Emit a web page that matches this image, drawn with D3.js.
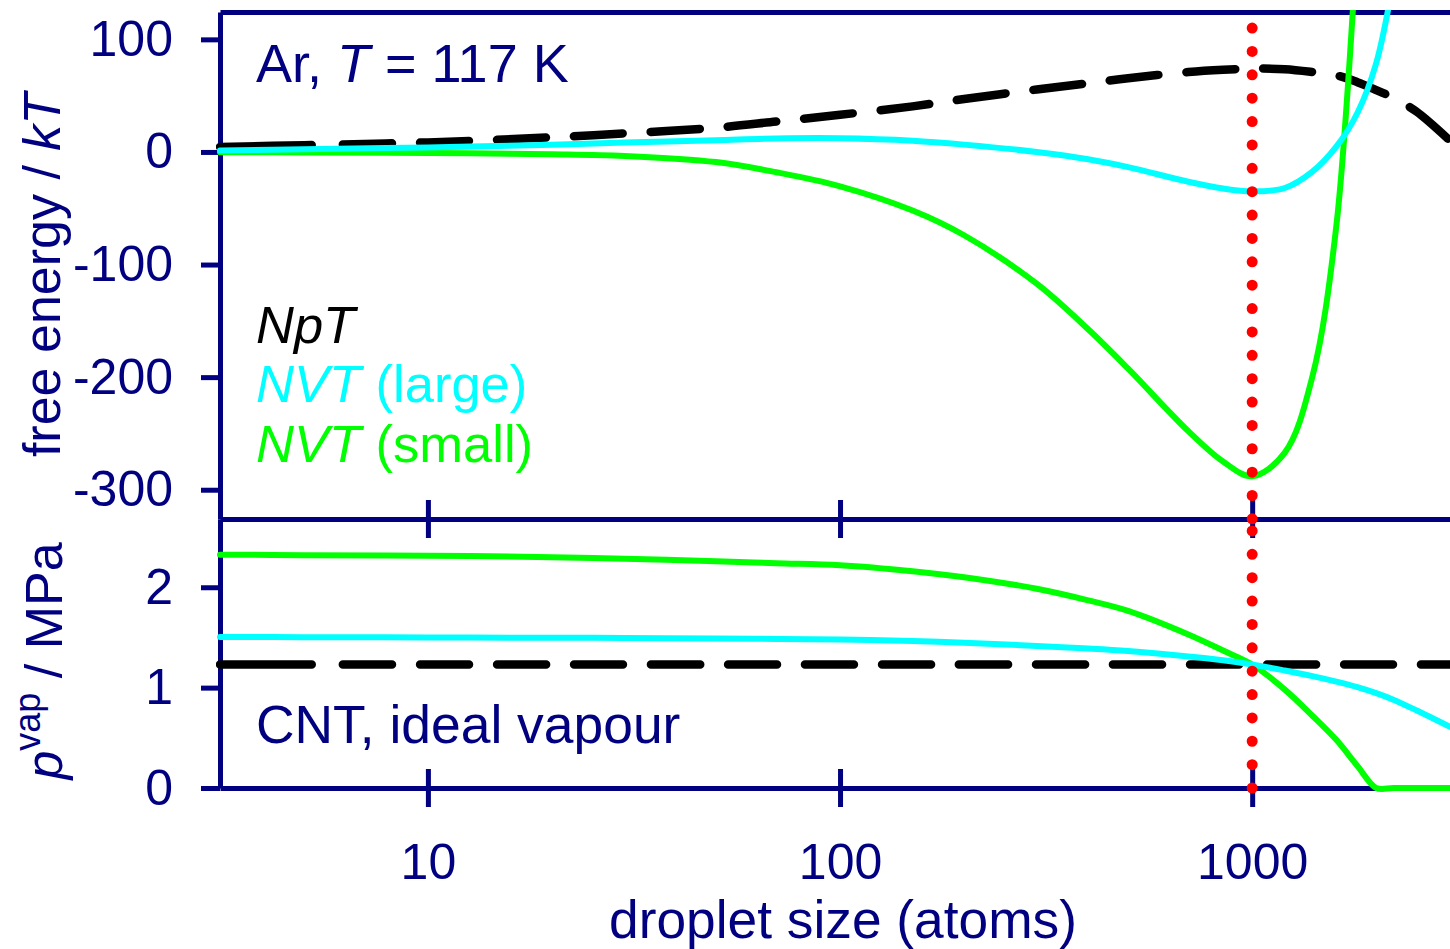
<!DOCTYPE html>
<html>
<head>
<meta charset="utf-8">
<script src="https://cdn.jsdelivr.net/npm/d3@7"></script>
<style>
  body { margin: 0; background: #fff; }
  svg text { font-family: "Liberation Sans", Arial, sans-serif; }
</style>
</head>
<body>
<script>
const sizes = [3.13, 5, 10, 20, 30, 50, 70, 100, 150, 200, 300, 400, 500, 700, 850,
               1000, 1200, 1400, 1600, 1800, 2000, 2200, 2500, 3020];

// free energy / kT
const energyNpT = [4.5, 6, 8.5, 13, 16.5, 21.5, 27, 33, 40.5, 47, 55.5, 61, 65.5, 71, 73,
                   74, 73.5, 71, 68, 62, 55, 48, 36, 10];
const energyLarge = [1.2, 2.5, 4, 6.5, 8.3, 10.5, 12, 12.2, 10, 6.5, 0, -6.5, -13.5, -26.5, -32.5,
                     -35, -32, -17.5, 4.7, 34.6, 79, 152, null, null];
const energySmall = [-0.3, -0.4, -1, -2, -3.5, -9, -18, -30.5, -52, -74, -117, -157.5, -192.5, -248, -275,
                     -288, -267, -199.5, -66, 194, null, null, null, null];

// vapour pressure / MPa
const pressNpT = [1.23, 1.23, 1.23, 1.23, 1.23, 1.23, 1.23, 1.23, 1.23, 1.23, 1.23, 1.23, 1.23, 1.23, 1.23,
                  1.23, 1.23, 1.23, 1.23, 1.23, 1.23, 1.23, 1.23, 1.23];
const pressLarge = [1.505, 1.503, 1.5, 1.497, 1.495, 1.49, 1.485, 1.48, 1.465, 1.447, 1.415, 1.39, 1.365, 1.31, 1.272,
                    1.23, 1.17, 1.115, 1.06, 1.005, 0.945, 0.88, 0.775, 0.61];
const pressSmall = [2.325, 2.32, 2.315, 2.3, 2.285, 2.26, 2.24, 2.22, 2.16, 2.1, 1.985, 1.87, 1.765, 1.53, 1.37,
                    1.23, 0.98, 0.72, 0.48, 0.22, 0, 0, 0, 0];

const xTicks = [10, 100, 1000];
const energyTicks = [100, 0, -100, -200, -300];
const pressTicks = [0, 1, 2];
const criticalSize = 1000;

const width = 1450, height = 949;
const navy = "#000080";

const x = d3.scaleLog().domain([3.13, 3020]).range([220, 1450]);
const yTop = d3.scaleLinear().domain([-326, 124.3]).range([519, 12]);
const yBot = d3.scaleLinear().domain([0, 2.68]).range([788, 519]);

const svg = d3.select("body").append("svg")
  .attr("width", width)
  .attr("height", height);

function styleAxis(g) {
  g.attr("font-family", null).attr("font-size", null);
  g.select(".domain").style("stroke", navy).style("stroke-width", "5px");
  g.selectAll(".tick line").style("stroke", navy).style("stroke-width", "5px");
  g.selectAll(".tick text").style("fill", navy).style("font-size", "50px");
}

/* ------- axes ------- */
svg.append("g")
  .attr("transform", "translate(220,0)")
  .call(d3.axisLeft(yTop).tickValues(energyTicks).tickSize(19).tickSizeOuter(0)
        .tickPadding(28).tickFormat(d => String(d)))
  .call(styleAxis);

svg.append("g")
  .attr("transform", "translate(220,0)")
  .call(d3.axisLeft(yBot).tickValues(pressTicks).tickSize(19).tickSizeOuter(0)
        .tickPadding(28).tickFormat(d => String(d)))
  .call(styleAxis);

svg.append("g")
  .attr("transform", "translate(0,12)")
  .call(d3.axisTop(x).tickValues([]).tickSizeOuter(0))
  .call(styleAxis);

svg.append("g")
  .attr("transform", "translate(0,519)")
  .call(d3.axisBottom(x).tickValues(xTicks).tickSize(19).tickSizeOuter(0).tickFormat(""))
  .call(styleAxis)
  .call(g => g.selectAll(".tick line").attr("y1", -19));

svg.append("g")
  .attr("transform", "translate(0,788)")
  .call(d3.axisBottom(x).tickValues(xTicks).tickSize(19).tickSizeOuter(0).tickFormat(d => String(d)))
  .call(styleAxis)
  .call(g => g.selectAll(".tick line").attr("y1", -19))
  .call(g => g.selectAll(".tick text").attr("y", 91).attr("dy", 0));

/* ------- clips ------- */
const defs = svg.append("defs");
defs.append("clipPath").attr("id", "clipTop").append("rect")
  .attr("x", 216).attr("y", yTop.range()[1] - 2)
  .attr("width", width).attr("height", yTop.range()[0] - yTop.range()[1] + 2);
defs.append("clipPath").attr("id", "clipBot").append("rect")
  .attr("x", 216).attr("y", yBot.range()[1])
  .attr("width", width).attr("height", yBot.range()[0] - yBot.range()[1] + 4);

/* ------- curves ------- */
// long first dash, then a regular pattern
const dashes = [92, 31].concat(d3.range(30).flatMap(() => [49, 28])).join(",");

function drawSeries(g, y, values, color, widthPx, dash) {
  const line = d3.line()
    .defined(d => d[1] !== null)
    .x(d => x(d[0]))
    .y(d => y(d[1]))
    .curve(d3.curveCatmullRom.alpha(0.5));
  g.append("path")
    .datum(sizes.map((s, i) => [s, values[i]]))
    .attr("d", line)
    .style("fill", "none")
    .style("stroke", color)
    .style("stroke-width", widthPx + "px")
    .style("stroke-linejoin", "round")
    .style("stroke-linecap", "round")
    .style("stroke-dasharray", dash);
}

const topG = svg.append("g").attr("clip-path", "url(#clipTop)");
drawSeries(topG, yTop, energyNpT, "#000", 8.5, dashes);
drawSeries(topG, yTop, energySmall, "#00ff00", 6, "none");
drawSeries(topG, yTop, energyLarge, "#00ffff", 6, "none");

const botG = svg.append("g").attr("clip-path", "url(#clipBot)");
drawSeries(botG, yBot, pressNpT, "#000", 8.5, dashes);
drawSeries(botG, yBot, pressSmall, "#00ff00", 6, "none");
drawSeries(botG, yBot, pressLarge, "#00ffff", 6, "none");

/* ------- critical size marker ------- */
function dotted(y, from, to) {
  svg.append("line")
    .attr("x1", x(criticalSize)).attr("x2", x(criticalSize))
    .attr("y1", y(from)).attr("y2", y(to))
    .style("stroke", "#ff0000")
    .style("stroke-width", "11px")
    .style("stroke-linecap", "round")
    .style("stroke-dasharray", "0,23.37");
}
dotted(yTop, 110, yTop.domain()[0]);
dotted(yBot, 0, yBot.domain()[1]);

/* ------- text ------- */
const ann = svg.append("text").attr("x", 256).attr("y", 82)
  .style("fill", navy).style("font-size", "54px");
ann.append("tspan").text("Ar, ");
ann.append("tspan").style("font-style", "italic").text("T");
ann.append("tspan").text(" = 117 K");

const legend = [
  { name: "NpT", extra: "", color: "#000", y: 343 },
  { name: "NVT", extra: " (large)", color: "#00ffff", y: 402 },
  { name: "NVT", extra: " (small)", color: "#00ff00", y: 462 }
];
legend.forEach(d => {
  const t = svg.append("text").attr("x", 256).attr("y", d.y)
    .style("fill", d.color).style("font-size", "52.5px");
  t.append("tspan").style("font-style", "italic").text(d.name);
  if (d.extra) t.append("tspan").text(d.extra);
});

svg.append("text").attr("x", 256).attr("y", 743)
  .style("fill", navy).style("font-size", "53.4px")
  .text("CNT, ideal vapour");

const yt1 = svg.append("text")
  .attr("transform", "translate(60,275) rotate(-90)")
  .attr("text-anchor", "middle")
  .style("fill", navy).style("font-size", "52px");
yt1.append("tspan").text("free energy / ");
yt1.append("tspan").style("font-style", "italic").text("kT");

const yt2 = svg.append("text")
  .attr("transform", "translate(62,661) rotate(-90)")
  .attr("text-anchor", "middle")
  .style("fill", navy).style("font-size", "52px");
yt2.append("tspan").style("font-style", "italic").text("p");
yt2.append("tspan").attr("dy", -22).style("font-size", "36px").text("vap");
yt2.append("tspan").attr("dy", 22).text(" / MPa");

svg.append("text")
  .attr("x", 843).attr("y", 938)
  .attr("text-anchor", "middle")
  .style("fill", navy).style("font-size", "53.3px")
  .text("droplet size (atoms)");
</script>
</body>
</html>
